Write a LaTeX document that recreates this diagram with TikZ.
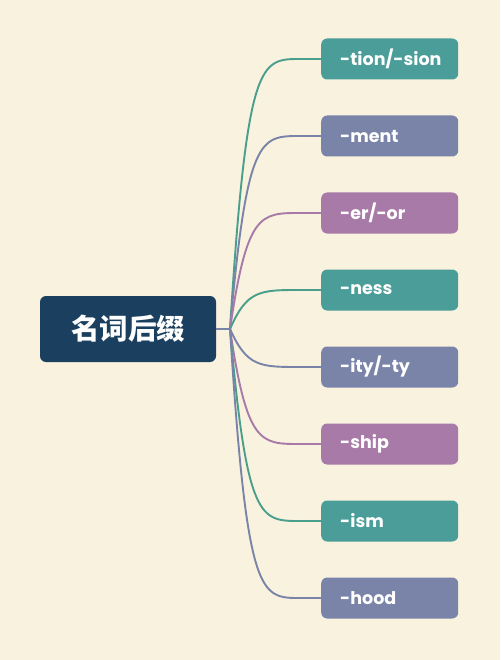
\documentclass[tikz,border=0pt]{standalone}
\usepackage{fontspec}
\setmainfont{Poppins}
\newfontfamily\cjk{Noto Sans CJK SC}
\definecolor{bg}{HTML}{F8F2DF}
\definecolor{navy}{HTML}{1B3F5E}
\definecolor{teal}{HTML}{4A9D98}
\definecolor{slate}{HTML}{7A84A8}
\definecolor{plum}{HTML}{A87AA8}
\definecolor{tealline}{HTML}{4A9E8C}
\begin{document}
\begin{tikzpicture}[x=1pt,y=-1pt,
  leaf/.style={rounded corners=6pt, minimum width=137pt, minimum height=41pt, inner sep=0pt, text=white, font=\fontsize{17.5}{20}\selectfont\bfseries, anchor=west, text width=137pt, align=left},
  link/.style={line width=1.9pt}]
\fill[bg] (0,0) rectangle (500,660);
\useasboundingbox (0,0) rectangle (500,660);
\node[fill=navy, rounded corners=6pt, minimum width=176pt, minimum height=66pt, text=white, font=\cjk\fontsize{28.5}{32}\selectfont\bfseries] (root) at (128,329) {名词后缀};
\coordinate (hub) at (230,329);
\draw[link, color=slate] (root.east) -- (hub);
\foreach \n/\t/\y/\c/\lc in {a/{-tion/-sion}/59/teal/tealline, b/{-ment}/136/slate/slate, c/{-er/-or}/213/plum/plum, d/{-ness}/290/teal/tealline, e/{-ity/-ty}/367/slate/slate, f/{-ship}/444/plum/plum, g/{-ism}/521/teal/tealline, h/{-hood}/598/slate/slate}{
  \node[leaf, fill=\c] (\n) at (321,\y) {\hspace*{19pt}\t};
  \draw[link, color=\lc] (hub) .. controls (247,\y) and (260,\y) .. (300,\y) -- (\n.west);
}
\end{tikzpicture}
\end{document}
